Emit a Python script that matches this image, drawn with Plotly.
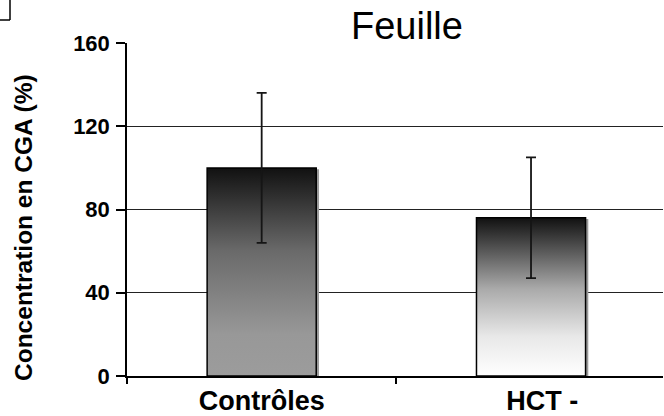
import plotly.graph_objects as go

categories = ["Contrôles", "\u00a0\u00a0\u00a0HCT -"]
values = [100, 76]
errors = [36, 29]
y_ticks = [0, 40, 80, 120, 160]
title_text = "Feuille"
y_title = "Concentration en CGA (%)"

gradients = [
    [[0, "#9c9c9c"], [0.2, "#989898"], [0.6, "#6a6a6a"], [1, "#111111"]],
    [[0, "#ffffff"], [0.25, "#e8e8e8"], [0.55, "#aaaaaa"], [0.8, "#555555"], [1, "#111111"]],
]

W, H = 664, 416
L, R, T, B = 127, 1, 43, 40
pw, ph = W - L - R, H - T - B
bar_w = 0.405
x_lo, x_hi = -0.5, 1.49
y_lo, y_hi = 0, 160
shadow_dx = 2 * (x_hi - x_lo) / pw
shadow_dy = 2 * (y_hi - y_lo) / ph

def px_x(p):
    return (p - L) / pw

def px_y(p):
    return 1 + (T - p) / ph

fig = go.Figure()
for i, (v, g) in enumerate(zip(values, gradients)):
    x0, x1 = i - bar_w / 2, i + bar_w / 2
    fig.add_trace(go.Scatter(
        x=[x0 + shadow_dx, x1 + shadow_dx, x1 + shadow_dx, x0 + shadow_dx, x0 + shadow_dx],
        y=[0, 0, v - shadow_dy, v - shadow_dy, 0],
        mode="lines", fill="toself", fillcolor="#9a9a9a",
        line=dict(color="#9a9a9a", width=1.5),
        hoverinfo="skip", showlegend=False,
    ))
    fig.add_trace(go.Scatter(
        x=[x0, x1, x1, x0, x0], y=[0, 0, v, v, 0],
        mode="lines", fill="toself",
        fillgradient=dict(type="vertical", colorscale=g),
        line=dict(color="black", width=1.5),
        hoverinfo="skip", showlegend=False,
    ))

fig.add_trace(go.Scatter(
    x=list(range(len(values))), y=values, mode="markers",
    marker=dict(size=1, color="rgba(0,0,0,0)"),
    error_y=dict(type="data", array=errors, visible=True,
                 color="#151515", thickness=1.8, width=5),
    showlegend=False, hoverinfo="skip",
))

fig.update_layout(
    width=W, height=H,
    margin=dict(l=L, r=R, t=T, b=B, pad=0),
    paper_bgcolor="white", plot_bgcolor="white",
    font=dict(family="Liberation Sans, Arial, sans-serif", color="black"),
    showlegend=False,
    xaxis=dict(
        range=[x_lo, x_hi], tickmode="array", tickvals=list(range(len(categories))),
        ticktext=categories, ticks="", showgrid=False, zeroline=False,
        showline=True, linecolor="black", linewidth=1.5,
        tickfont=dict(size=27, weight="bold"),
        minor=dict(tick0=0.5, dtick=1, ticks="outside", ticklen=6,
                   tickcolor="black", tickwidth=1.5, showgrid=False),
        fixedrange=True,
    ),
    yaxis=dict(
        range=[y_lo, y_hi], tickmode="array", tickvals=y_ticks,
        ticks="outside", ticklen=9, tickcolor="black", tickwidth=1.5,
        showline=True, linecolor="black", linewidth=1.5,
        showgrid=True, gridcolor="#222222", gridwidth=1, zeroline=False,
        tickfont=dict(size=22, weight="bold"), ticklabelstandoff=2,
        fixedrange=True,
    ),
    annotations=[
        dict(text=title_text, xref="paper", yref="paper",
             x=px_x(407), y=px_y(26), xanchor="center", yanchor="middle",
             showarrow=False, font=dict(size=38)),
        dict(text=y_title, xref="paper", yref="paper", textangle=-90,
             x=px_x(23), y=px_y(228), xanchor="center", yanchor="middle",
             showarrow=False, font=dict(size=24.5, weight="bold")),
    ],
    shapes=[
        dict(type="line", xref="paper", yref="paper",
             x0=px_x(0), x1=px_x(10), y0=px_y(20), y1=px_y(20),
             line=dict(color="black", width=1.5)),
        dict(type="line", xref="paper", yref="paper",
             x0=px_x(10), x1=px_x(10), y0=px_y(0), y1=px_y(20),
             line=dict(color="black", width=1.5)),
    ],
)

fig.write_html("out.html", config={"displayModeBar": False},
               post_script="document.body.style.margin='0';")
